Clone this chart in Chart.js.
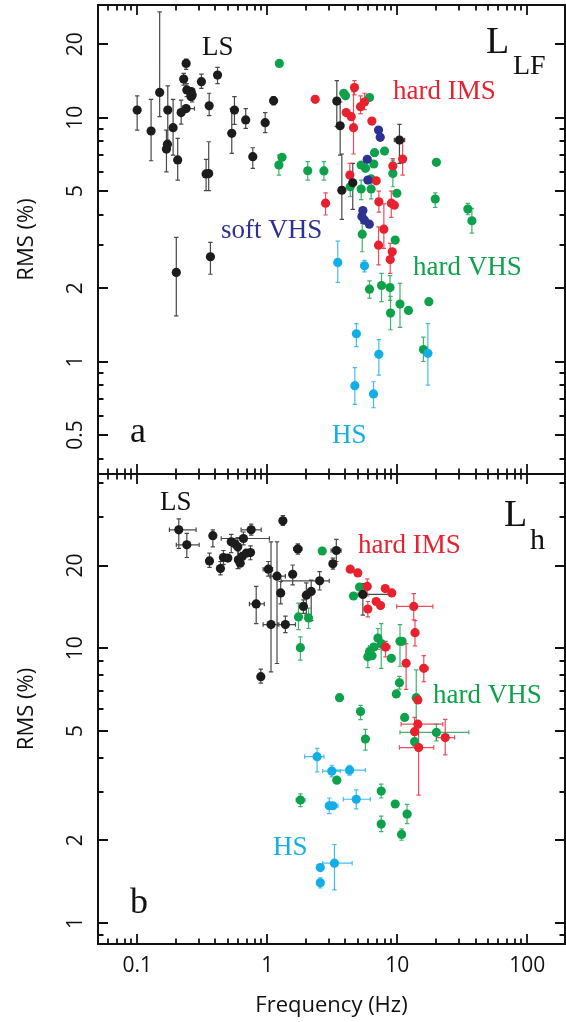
<!DOCTYPE html>
<html>
<head>
<meta charset="utf-8">
<title>QPO rms vs frequency</title>
<script src="https://cdn.jsdelivr.net/npm/chart.js@4.4.1/dist/chart.umd.min.js"></script>
<style>
  html, body { margin: 0; background: #fff; }
  #wrap { position: relative; width: 566px; height: 1022px; }
  #wrap canvas { position: absolute; left: 0; top: 0; }
</style>
</head>
<body>
<div id="wrap">
  <canvas id="lfChart" width="566" height="1022"></canvas>
  <canvas id="hChart" width="566" height="1022"></canvas>
</div>
<script>
// rows: [freq (Hz), rms (%), rmsLow, rmsHigh, freqLow, freqHigh]

// panel a: L_LF component
const lfLS = [
  [0.100, 10.75, 8.9, 12.3], [0.128, 8.82, 6.66, 11.9], [0.149, 12.7, 10.1, 27.2],
  [0.172, 10.75, 8.1, 13.5], [0.168, 7.44, 6.0, 8.9], [0.171, 7.78],
  [0.189, 9.1, 7.03, 11.9], [0.205, 6.71, 5.55, 8.23], [0.218, 10.5, 9.42, 11.8],
  [0.238, 10.9, null, null, 0.218, 0.276], [0.238, 16.7, 15.8, 17.4], [0.228, 14.4, 13.6, 15.2],
  [0.241, 13.0, 12.2, 13.8], [0.260, 12.8], [0.260, 12.2], [0.265, 12.4, 11.6, 13.2],
  [0.312, 14.05, 13.2, 15.1], [0.415, 14.96, 13.8, 16.1], [0.358, 11.2, 10.2, 12.6],
  [0.339, 5.88, 5.02, 6.75], [0.355, 5.9, 5.02, 7.97], [0.534, 8.63, 7.14, 10.9],
  [0.560, 10.75, 9.4, 12.2], [0.684, 9.79, 9.05, 10.9], [0.775, 6.92, 6.2, 7.53],
  [0.965, 9.54, 8.68, 10.5], [1.12, 11.75, 11.3, 12.2], [0.200, 2.32, 1.54, 3.23],
  [0.366, 2.69, 2.28, 3.08], [3.43, 11.7, 9.19, 14.2], [3.64, 9.27, 7.03, 11.6],
  [3.75, 5.04, 3.83, 7.1], [4.55, 5.41, 4.21, 6.5], [10.4, 8.1, 6.5, 9.4, 9.5, 11.4]
];
const lfHardIMS = [
  [2.34, 11.9], [4.69, 13.3, 12.4, 14.2], [4.05, 10.5], [4.43, 10.1],
  [4.61, 9.1, 7.1, 12.8], [5.22, 11.1, 10.4, 12.3], [5.6, 11.6, 10.8, 12.6], [6.38, 9.69],
  [4.32, 5.82, 5.2, 6.5], [6.89, 5.51], [9.25, 6.34, 5.9, 6.8], [11.0, 6.77, 5.82, 7.97],
  [2.81, 4.46, 3.99, 4.92], [7.22, 4.52, 4.1, 5.0], [9.0, 4.46, 3.9, 5.0], [9.5, 4.38],
  [7.89, 3.49, 2.91, 4.43], [7.18, 3.0, 2.49, 3.57], [9.15, 2.82], [8.83, 2.62, 2.3, 3.05]
];
const lfSoftVHS = [
  [7.18, 8.9], [7.4, 8.31], [5.88, 6.75], [5.94, 5.55],
  [5.44, 4.16], [5.35, 3.93], [5.6, 3.8], [6.1, 3.66]
];
const lfHardVHS = [
  [1.24, 16.7], [1.30, 6.88], [1.23, 6.4, 5.82, 7.03], [2.05, 6.06, 5.55, 6.6],
  [2.73, 6.05, 5.55, 6.6], [3.88, 12.6], [4.0, 12.3], [6.12, 12.1],
  [6.69, 7.19], [7.99, 7.3], [5.28, 6.4], [5.7, 6.2], [6.6, 6.46], [6.3, 5.61],
  [4.35, 5.21, 4.74, 5.82], [5.28, 5.1, 4.61, 5.55], [6.3, 5.1, 4.65, 5.75],
  [9.25, 5.91, 5.21, 6.7], [9.93, 4.9], [20.0, 6.56], [19.6, 4.64, 4.29, 4.92],
  [34.9, 4.22, 4.0, 4.45], [37.5, 3.78, 3.36, 4.25], [5.38, 3.33, 2.82, 3.69],
  [9.65, 3.15], [6.12, 1.98, 1.82, 2.14], [7.57, 2.05, 1.76, 2.3], [8.8, 2.01, 1.78, 2.25],
  [8.88, 1.58, 1.35, 1.85], [10.5, 1.72, 1.38, 2.09], [12.2, 1.62], [17.5, 1.76],
  [15.9, 1.12, 1.0, 1.26]
];
const lfHS = [
  [3.49, 2.55, 2.11, 3.12], [5.6, 2.47, 2.33, 2.6], [4.85, 1.3, 1.15, 1.43],
  [7.22, 1.07, 0.88, 1.23], [17.2, 1.08, 0.8, 1.43], [4.72, 0.796, 0.667, 0.943],
  [6.57, 0.736, 0.646, 0.826]
];

// panel b: L_h component
const hLS = [
  [0.209, 27.0, 23.1, 29.6, 0.177, 0.284], [0.241, 23.8, 21.4, 26.2, 0.2, 0.3],
  [0.382, 25.7, 23.4, 27.0], [0.36, 20.8, 19.7, 22.2], [0.437, 19.5, 18.5, 20.7],
  [0.461, 21.4, 20.2, 22.7], [0.498, 21.3], [0.529, 24.4, 22.3, 26.0], [0.565, 24.0],
  [0.594, 23.4, 19.5, 25.3], [0.60, 21.0, 19.5, 22.6], [0.62, 20.4],
  [0.657, 25.1, 23.8, 26.5, 0.443, 1.04], [0.642, 21.6], [0.69, 22.2],
  [0.744, 22.3, 21.0, 23.6], [0.753, 27.0, 25.8, 28.3, 0.63, 0.9],
  [0.823, 14.5, 12.3, 16.8, 0.73, 0.95], [0.893, 7.88, 7.46, 8.39],
  [1.02, 19.4, 18.3, 20.7, 0.93, 1.1], [1.07, 12.2, 8.2, 24.4, 0.93, 1.23],
  [1.19, 18.3, 8.8, 24.4, 1.05, 1.38], [1.27, 15.9, 14.5, 17.5],
  [1.38, 12.2, 11.4, 13.1, 1.2, 1.65], [1.32, 29.1, 28.0, 30.4],
  [1.72, 23.0, 22.0, 24.0, 1.6, 1.85], [1.57, 18.6, 17.0, 20.1],
  [2.53, 17.6, 16.3, 19.0, 1.28, 3.0], [2.0, 15.6, 13.2, 17.3], [2.18, 16.1, 12.6, 17.7],
  [1.9, 14.2, 13.4, 15.0], [3.4, 22.7, 20.7, 24.9, 3.1, 3.7], [3.2, 20.3, 19.4, 21.3],
  [5.44, 15.7, 13.2, 17.2, 5.0, 8.8]
];
const hHardIMS = [
  [4.35, 19.4], [4.98, 18.8], [5.88, 16.8, 15.5, 17.9], [8.09, 16.5], [9.08, 15.9],
  [6.89, 14.8], [7.44, 14.3], [5.94, 13.9, 13.0, 14.8],
  [13.4, 14.2, 12.7, 15.8, 9.9, 18.8], [13.7, 11.4, 10.2, 12.6, 13.0, 14.6],
  [8.13, 10.1, 9.3, 10.6, 7.5, 8.8], [11.7, 8.82, 7.09, 10.4],
  [16.0, 8.45, 7.56, 9.4, 15.0, 17.3], [14.4, 6.48], [14.4, 5.29, null, null, 10.7, 22.4],
  [13.6, 4.97, 4.4, 5.6], [23.4, 4.73, 4.09, 5.51, 20.0, 27.6],
  [14.6, 4.35, 2.92, 5.18, 10.4, 19.1]
];
const hHardVHS = [
  [2.65, 22.6], [5.13, 16.7], [4.61, 15.5], [1.74, 13.0, 11.7, 14.6],
  [2.08, 12.9, 11.8, 14.0], [1.8, 10.05, 9.06, 11.0], [7.1, 10.9, 9.9, 11.8],
  [6.6, 10.1, null, null, 6.0, 7.6], [6.12, 9.72], [5.94, 9.31, 8.5, 10.0], [6.4, 9.4],
  [7.53, 10.4, 8.45, 12.3], [9.0, 9.19], [10.5, 10.6, 8.6, 12.2], [10.9, 10.6],
  [10.4, 7.49, 7.1, 7.9], [9.83, 6.82], [14.0, 6.61, 5.4, 8.34], [3.6, 6.61],
  [5.22, 5.88, 5.5, 6.2], [11.4, 5.6], [5.69, 4.67, 4.26, 5.07], [13.6, 4.57],
  [20.0, 4.94, 4.6, 5.3, 10.5, 35.5], [3.43, 3.31], [7.53, 3.02, 2.85, 3.2], [9.65, 2.71],
  [11.9, 2.49, 2.3, 2.7, 11.2, 12.7], [7.53, 2.29, 2.15, 2.45], [10.8, 2.1, 2.0, 2.2],
  [1.8, 2.8, 2.65, 2.95, 1.67, 1.95]
];
const hHS = [
  [2.42, 4.03, 3.55, 4.32, 1.94, 2.73], [3.14, 3.57, 3.4, 3.75, 2.67, 3.65],
  [4.3, 3.6, 3.45, 3.75, 3.2, 5.7], [4.84, 2.82, 2.6, 3.05, 3.85, 6.2],
  [3.0, 2.67, 2.5, 2.85], [3.2, 2.67, null, null, 2.85, 3.5], [2.56, 1.59],
  [3.29, 1.65, 1.32, 1.93, 2.67, 4.5], [2.56, 1.40, 1.34, 1.46, 2.4, 2.72]
];

// axes
const freqRange = [0.05, 195];
const freqLabels = [0.1, 1, 10, 100];
const lfRange = [0.3456, 29];
const lfLabels = [0.5, 1, 2, 5, 10, 20];
const hRange = [0.838, 43.1];
const hLabels = [1, 2, 5, 10, 20];

const colors = {
  LS: '#1c1c1c', HS: '#14aee6', softVHS: '#2e3192', hardIMS: '#e8212e', hardVHS: '#0ea14b'
};

const sansFont = '"Open Sans", "Liberation Sans", sans-serif';
const serifFont = '"Liberation Serif", "Times New Roman", serif';

function toPoints(rows) {
  return rows.map(r => ({ x: r[0], y: r[1], yLo: r[2], yHi: r[3], xLo: r[4], xHi: r[5] }));
}

function series(label, rows, color) {
  return {
    label: label,
    data: toPoints(rows),
    backgroundColor: color,
    borderColor: color,
    borderWidth: 0,
    pointRadius: 4.6,
    pointHoverRadius: 4.6
  };
}

// every value m*10^k inside [min, max]
function logTicks(min, max) {
  const out = [];
  for (let k = Math.floor(Math.log10(min)); k <= Math.ceil(Math.log10(max)); k++) {
    for (let m = 1; m <= 9; m++) {
      const v = +(m * Math.pow(10, k)).toPrecision(6);
      if (v >= min * 0.9999 && v <= max * 1.0001) out.push({ v: v, m: m });
    }
  }
  return out;
}

const errorBars = {
  id: 'errorBars',
  beforeDatasetsDraw(chart) {
    const { ctx, chartArea: a, scales: { x, y } } = chart;
    ctx.save();
    ctx.beginPath();
    ctx.rect(a.left, a.top, a.right - a.left, a.bottom - a.top);
    ctx.clip();
    ctx.lineWidth = 1.2;
    ctx.globalAlpha = 0.8;
    const cap = 2.2;
    chart.data.datasets.forEach(ds => {
      ctx.strokeStyle = ds.borderColor;
      ctx.beginPath();
      ds.data.forEach(p => {
        const px = x.getPixelForValue(p.x), py = y.getPixelForValue(p.y);
        if (p.yLo != null) {
          const lo = y.getPixelForValue(p.yLo), hi = y.getPixelForValue(p.yHi);
          ctx.moveTo(px, lo); ctx.lineTo(px, hi);
          ctx.moveTo(px - cap, lo); ctx.lineTo(px + cap, lo);
          ctx.moveTo(px - cap, hi); ctx.lineTo(px + cap, hi);
        }
        if (p.xLo != null) {
          const lo = x.getPixelForValue(p.xLo), hi = x.getPixelForValue(p.xHi);
          ctx.moveTo(lo, py); ctx.lineTo(hi, py);
          ctx.moveTo(lo, py - cap); ctx.lineTo(lo, py + cap);
          ctx.moveTo(hi, py - cap); ctx.lineTo(hi, py + cap);
        }
      });
      ctx.stroke();
    });
    ctx.restore();
  }
};

// frame, inward ticks, tick labels, titles and panel annotations
const frame = {
  id: 'frame',
  afterDraw(chart, args, opts) {
    const { ctx, chartArea: a, scales: { x, y } } = chart;
    ctx.save();
    ctx.strokeStyle = '#111';
    ctx.fillStyle = '#111';
    ctx.lineWidth = 2;
    ctx.strokeRect(a.left, a.top, a.right - a.left, a.bottom - a.top);

    const big = 10, small = 5.5;
    ctx.lineWidth = 1.8;
    ctx.beginPath();
    logTicks(x.min, x.max).forEach(t => {
      const px = Math.round(x.getPixelForValue(t.v));
      if (px <= a.left + 1 || px >= a.right - 1) return;
      const len = t.m === 1 ? big : small;
      ctx.moveTo(px, a.top); ctx.lineTo(px, a.top + len);
      ctx.moveTo(px, a.bottom); ctx.lineTo(px, a.bottom - len);
    });
    logTicks(y.min, y.max).forEach(t => {
      const py = Math.round(y.getPixelForValue(t.v));
      if (py <= a.top + 1 || py >= a.bottom - 1) return;
      const len = (t.m === 1 || t.m === 2 || t.m === 5) ? big : small;
      ctx.moveTo(a.left, py); ctx.lineTo(a.left + len, py);
      ctx.moveTo(a.right, py); ctx.lineTo(a.right - len, py);
    });
    ctx.stroke();

    // y tick labels, rotated
    ctx.font = '21px ' + sansFont;
    ctx.textAlign = 'center';
    ctx.textBaseline = 'alphabetic';
    opts.yLabels.forEach(v => {
      ctx.save();
      ctx.translate(a.left - 16, y.getPixelForValue(v));
      ctx.rotate(-Math.PI / 2);
      ctx.fillText(String(v), 0, 0);
      ctx.restore();
    });

    // y title
    ctx.font = '22px ' + sansFont;
    ctx.save();
    ctx.translate(a.left - 65, (a.top + a.bottom) / 2);
    ctx.rotate(-Math.PI / 2);
    ctx.fillText('RMS (%)', 0, 0);
    ctx.restore();

    if (opts.xAxis) {
      ctx.font = '21px ' + sansFont;
      freqLabels.forEach(v => ctx.fillText(String(v), x.getPixelForValue(v), a.bottom + 28));
      ctx.font = '22px ' + sansFont;
      ctx.fillText('Frequency (Hz)', (a.left + a.right) / 2, a.bottom + 68);
    }

    ctx.textAlign = 'left';
    opts.notes.forEach(n => {
      ctx.font = n.size + 'px ' + serifFont;
      ctx.fillStyle = n.color || '#111';
      ctx.fillText(n.text, a.left + n.dx, a.top + n.dy);
    });
    ctx.restore();
  }
};

function makeChart(id, datasets, yRange, padding, frameOpts) {
  return new Chart(document.getElementById(id), {
    type: 'scatter',
    data: { datasets: datasets },
    options: {
      responsive: false,
      animation: false,
      devicePixelRatio: 1,
      events: [],
      layout: { padding: padding, autoPadding: false },
      plugins: { legend: { display: false }, tooltip: { enabled: false }, frame: frameOpts },
      scales: {
        x: { type: 'logarithmic', min: freqRange[0], max: freqRange[1], bounds: 'data', display: false },
        y: { type: 'logarithmic', min: yRange[0], max: yRange[1], bounds: 'data', display: false }
      }
    },
    plugins: [errorBars, frame]
  });
}

makeChart('lfChart', [
  series('LS', lfLS, colors.LS),
  series('HS', lfHS, colors.HS),
  series('soft VHS', lfSoftVHS, colors.softVHS),
  series('hard IMS', lfHardIMS, colors.hardIMS),
  series('hard VHS', lfHardVHS, colors.hardVHS)
], lfRange, { left: 98, right: 1, top: 5, bottom: 548 }, {
  yLabels: lfLabels,
  xAxis: false,
  notes: [
    { text: 'LS', dx: 104, dy: 50, size: 27 },
    { text: 'L', dx: 388, dy: 48, size: 38 },
    { text: 'LF', dx: 415, dy: 69, size: 28 },
    { text: 'hard IMS', dx: 295, dy: 94, size: 27, color: colors.hardIMS },
    { text: 'soft VHS', dx: 123, dy: 233, size: 27, color: colors.softVHS },
    { text: 'hard VHS', dx: 315, dy: 270, size: 27, color: colors.hardVHS },
    { text: 'HS', dx: 234, dy: 438, size: 27, color: colors.HS },
    { text: 'a', dx: 32, dy: 437, size: 36 }
  ]
});

makeChart('hChart', [
  series('LS', hLS, colors.LS),
  series('HS', hHS, colors.HS),
  series('hard IMS', hHardIMS, colors.hardIMS),
  series('hard VHS', hHardVHS, colors.hardVHS)
], hRange, { left: 98, right: 1, top: 474, bottom: 78 }, {
  yLabels: hLabels,
  xAxis: true,
  notes: [
    { text: 'LS', dx: 62, dy: 36, size: 27 },
    { text: 'L', dx: 406, dy: 52, size: 38 },
    { text: 'h', dx: 432, dy: 75, size: 30 },
    { text: 'hard IMS', dx: 260, dy: 79, size: 27, color: colors.hardIMS },
    { text: 'hard VHS', dx: 335, dy: 229, size: 27, color: colors.hardVHS },
    { text: 'HS', dx: 175, dy: 381, size: 27, color: colors.HS },
    { text: 'b', dx: 32, dy: 439, size: 36 }
  ]
});
</script>
</body>
</html>
